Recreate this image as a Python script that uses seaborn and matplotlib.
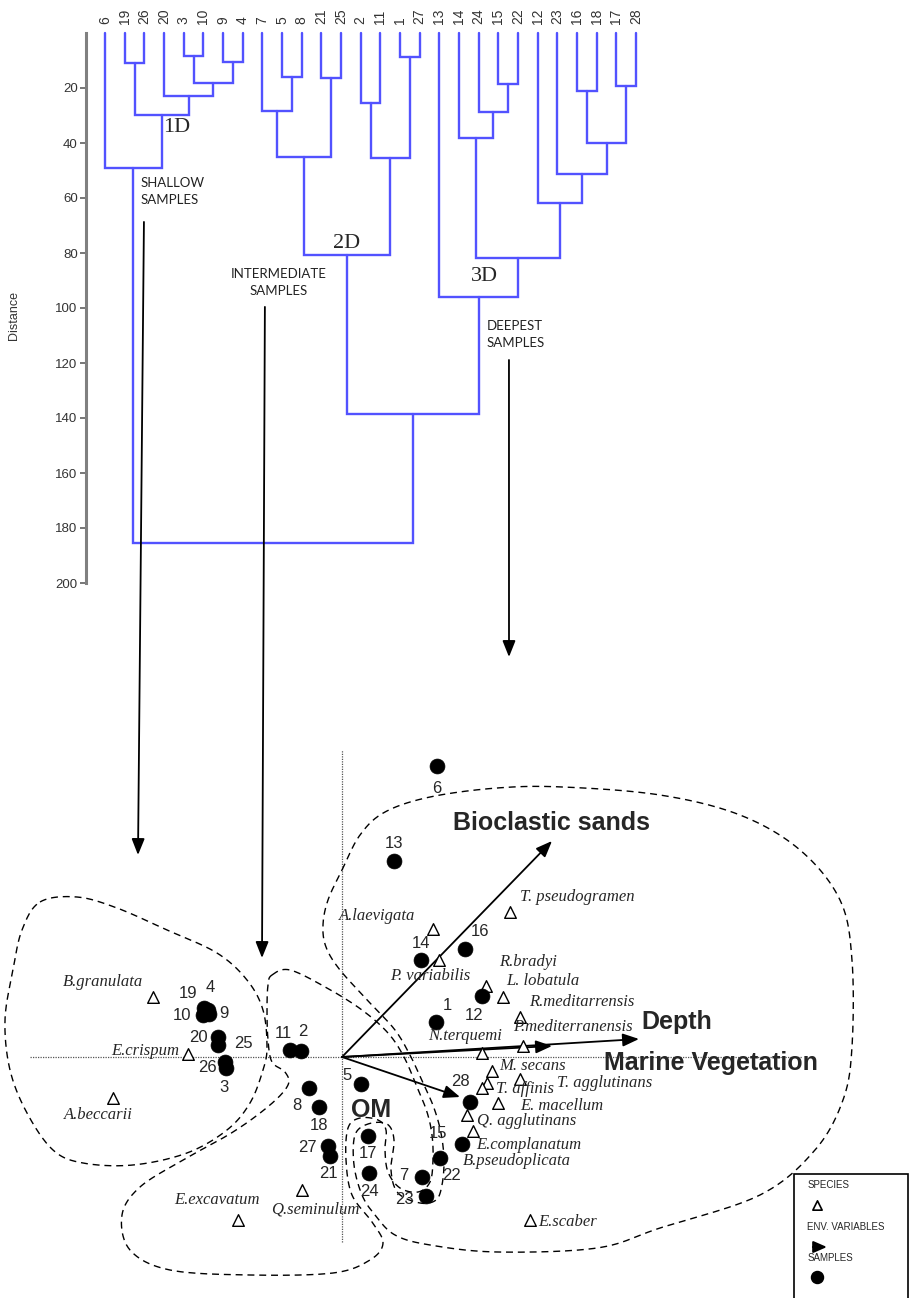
import numpy as np
import pandas as pd
import matplotlib
matplotlib.use("Agg")
import matplotlib.pyplot as plt
import seaborn as sns
from matplotlib.patches import Rectangle, ConnectionPatch

# ---------------- DATA ----------------
# Dendrogram: leaf order (sample numbers) and merges (id, left, right, distance)
leaf_order = [6, 19, 26, 20, 3, 10, 9, 4, 7, 5, 8, 21, 25, 2, 11, 1, 27,
              13, 14, 24, 15, 22, 12, 23, 16, 18, 17, 28]
den_merges = [
    ("A", 19, 26, 10.9), ("B", 3, 10, 8.4), ("C", 9, 4, 10.5),
    ("D", "B", "C", 18.2), ("E", 20, "D", 22.9), ("F", "A", "E", 29.8),
    ("G", 6, "F", 49.1),
    ("H", 5, 8, 16.0), ("I", 21, 25, 16.4), ("J", 7, "H", 28.4),
    ("K", "J", "I", 45.1), ("L", 2, 11, 25.5), ("M", 1, 27, 8.7),
    ("N", "L", "M", 45.5), ("O", "K", "N", 80.7),
    ("P", 15, 22, 18.5), ("Q", 24, "P", 28.7), ("R", 14, "Q", 38.2),
    ("S", 16, 18, 21.1), ("T", 17, 28, 19.3), ("U", "S", "T", 40.0),
    ("V", 23, "U", 51.3), ("W", 12, "V", 61.8), ("X", "R", "W", 81.8),
    ("Y", 13, "X", 96.0), ("Z", "O", "Y", 138.5), ("ROOT", "G", "Z", 185.5),
]
distance_ticks = [20, 40, 60, 80, 100, 120, 140, 160, 180, 200]

# Ordination: sample scores
sample_ids = list(range(1, 29))
sample_ax1 = [0.94, -0.41, -1.16, -1.34, 0.19, 0.95, 0.80, -0.33, -1.33, -1.39,
              -0.52, 1.40, 0.52, 0.79, 1.20, 1.23, 0.26, -0.23, -1.38, -1.24,
              -0.12, 0.98, 0.84, 0.27, -1.24, -1.17, -0.14, 1.28]
sample_ax2 = [0.35, 0.06, -0.11, 0.47, -0.27, 2.91, -1.20, -0.31, 0.43, 0.42,
              0.07, 0.61, 1.96, 0.97, -0.87, 1.08, -0.79, -0.50, 0.49, 0.20,
              -0.99, -1.01, -1.39, -1.16, 0.12, -0.05, -0.89, -0.45]

# Species scores
species_names = ["A.laevigata", "P. variabilis", "T. pseudogramen", "R.bradyi",
                 "L. lobatula", "R.meditarrensis", "P.mediterranensis",
                 "N.terquemi", "M. secans", "T. affinis", "T. agglutinans",
                 "E. macellum", "Q. agglutinans", "E.complanatum",
                 "B.pseudoplicata", "E.scaber", "B.granulata", "E.crispum",
                 "A.beccarii", "E.excavatum", "Q.seminulum"]
species_ax1 = [0.91, 0.97, 1.68, 1.44, 1.61, 1.78, 1.81, 1.40, 1.50, 1.45, 1.78,
               1.56, 1.25, 1.31, 1.40, 1.88, -1.89, -1.54, -2.29, -1.04, -0.40]
species_ax2 = [1.28, 0.97, 1.45, 0.71, 0.60, 0.40, 0.11, 0.04, -0.14, -0.26, -0.22,
               -0.46, -0.58, -0.74, -0.31, -1.63, 0.60, 0.03, -0.41, -1.63, -1.33]

# Environmental variables (biplot arrows)
env_names = ["Bioclastic sands", "Depth", "Marine Vegetation", "OM"]
env_ax1 = [2.10, 2.97, 2.10, 1.18]
env_ax2 = [2.16, 0.18, 0.11, -0.40]

# Group outlines (ordination units)
shallow_x = [-3.02, -2.65, -2.25, -1.75, -1.25, -0.95, -0.79, -0.75, -0.79, -0.92,
             -1.15, -1.55, -2.09, -2.59, -2.89, -3.15, -3.32, -3.37, -3.29, -3.20]
shallow_y = [1.55, 1.60, 1.49, 1.27, 1.04, 0.77, 0.47, 0.10, -0.13, -0.46,
             -0.73, -0.96, -1.08, -1.06, -0.93, -0.56, -0.13, 0.37, 0.87, 1.27]
inter_x = [-0.70, -0.52, -0.15, 0.20, 0.46, 0.62, 0.75, 0.85, 0.90, 0.91, 0.88,
           0.76, 0.58, 0.46, 0.43, 0.44, 0.36, 0.18, 0.06, 0.04, 0.10, 0.30,
           0.41, 0.28, -0.09, -0.92, -1.72, -2.12, -2.20, -2.02, -1.59, -1.09,
           -0.72, -0.54, -0.57, -0.70, -0.74, -0.75, -0.74]
inter_y = [0.82, 0.87, 0.69, 0.47, 0.24, 0.00, -0.30, -0.55, -0.78, -1.03, -1.25,
           -1.35, -1.31, -1.15, -0.93, -0.73, -0.63, -0.61, -0.71, -1.03, -1.38,
           -1.65, -1.86, -2.03, -2.16, -2.18, -2.13, -1.93, -1.58, -1.30, -1.03,
           -0.75, -0.48, -0.28, -0.15, -0.05, 0.17, 0.47, 0.72]
deep_x = [0.00, 0.18, 0.43, 0.88, 1.55, 2.21, 3.18, 3.98, 4.58, 4.98, 5.10, 5.10,
          5.01, 4.73, 4.18, 3.18, 2.55, 1.55, 0.88, 0.53, 0.33, 0.20, 0.12, 0.13,
          0.26, 0.45, 0.52, 0.49, 0.56, 0.78, 0.94, 1.00, 1.02, 0.99, 0.92, 0.82,
          0.69, 0.53, 0.28, -0.02, -0.16, -0.19, -0.14]
deep_y = [1.87, 2.22, 2.45, 2.60, 2.69, 2.70, 2.62, 2.42, 2.07, 1.57, 0.97, 0.10,
          -0.43, -0.93, -1.38, -1.71, -1.91, -1.95, -1.88, -1.78, -1.58, -1.38,
          -1.08, -0.78, -0.67, -0.67, -0.83, -1.13, -1.36, -1.46, -1.43, -1.28,
          -1.03, -0.76, -0.51, -0.28, 0.00, 0.27, 0.54, 0.87, 1.10, 1.32, 1.57]

# Label placement offsets (pixels: right, down)
sample_label_off = {1: (11, -17), 2: (2, -19), 3: (-2, 19), 4: (2, -22), 5: (-14, -8),
                    6: (0, 23), 7: (-18, -2), 8: (-12, 17), 9: (15, -1), 10: (-21, 0),
                    11: (-7, -17), 12: (-8, 19), 13: (0, -18), 14: (0, -17),
                    15: (-24, -11), 16: (15, -17), 17: (0, 17), 18: (0, 18),
                    19: (-16, -15), 20: (-20, 0), 21: (-2, 17), 22: (12, 18),
                    23: (-22, 3), 24: (0, 18), 25: (25, -1), 26: (-18, 5),
                    27: (-21, 1), 28: (-10, -21)}
species_label_off = [(-56, -13), (-9, 16), (67, -15), (42, -24), (40, -16), (62, -15),
                     (50, -19), (-17, -17), (41, -5), (38, 6), (85, 4), (64, 3),
                     (60, 6), (56, 14), (35, 73), (38, 2), (-50, -15), (-43, -3),
                     (-15, 17), (-21, -20), (13, 20)]
env_label_off = [(0, -18), (38, -17), (159, 17), (-89, 13)]

# ---------------- STYLE ----------------
sns.set_theme(style="white")
plt.rcParams["font.family"] = ["Liberation Sans", "DejaVu Sans"]
BLUE = "#5252ff"
PX = 0.72  # points per pixel at dpi 100

fig = plt.figure(figsize=(9.12, 12.98), dpi=100)

# ---------------- DENDROGRAM ----------------
ax1 = fig.add_axes([86 / 912, 1 - 583 / 1298, 826 / 912, 550 / 1298])
pos = {leaf: (i, 0.0) for i, leaf in enumerate(leaf_order)}
for mid, left, right, h in den_merges:
    xl, yl = pos[left]
    xr, yr = pos[right]
    ax1.plot([xl, xl, xr, xr], [yl, h, h, yr], color=BLUE, lw=1.7,
             solid_joinstyle="miter", clip_on=False, zorder=2)
    pos[mid] = ((xl + xr) / 2, h)

for i, leaf in enumerate(leaf_order):
    ax1.text(i, -3.3, str(leaf), rotation=90, ha="center", va="bottom",
             fontsize=10, color="#333333", clip_on=False)

ax1.set_xlim(-19 / 19.667, (912 - 105) / 19.667)
ax1.set_ylim(200, 0)
ax1.set_xticks([])
ax1.set_yticks(distance_ticks)
ax1.tick_params(axis="y", left=True, direction="out", length=4, width=1.4,
                color="#777777", labelsize=9.5, labelcolor="#333333", pad=2)
for s in ["top", "right", "bottom"]:
    ax1.spines[s].set_visible(False)
ax1.spines["left"].set_color("#808080")
ax1.spines["left"].set_linewidth(2.2)
ax1.set_ylabel("Distance", fontsize=9, color="#333333")
ax1.yaxis.set_label_coords(-0.08, 0.487)
ax1.patch.set_alpha(0)

ax1.text(2.95, 34.5, "1D", family="Liberation Serif", fontsize=16, va="center", ha="left")
ax1.text(11.6, 76.4, "2D", family="Liberation Serif", fontsize=16, va="center", ha="left")
ax1.text(18.6, 88.7, "3D", family="Liberation Serif", fontsize=16, va="center", ha="left")
ax1.text(1.83, 52.5, "SHALLOW\nSAMPLES", family="Lato", fontsize=9.5, ha="left",
         va="top", linespacing=1.45, color="#222222")
ax1.text(8.85, 85.5, "INTERMEDIATE\nSAMPLES", family="Lato", fontsize=9.5, ha="center",
         va="top", linespacing=1.45, color="#222222")
ax1.text(19.4, 104.5, "DEEPEST\nSAMPLES", family="Lato", fontsize=9.5, ha="left",
         va="top", linespacing=1.45, color="#222222")

# ---------------- ORDINATION ----------------
ax2 = fig.add_axes([0, 0, 1, 658 / 1298])
ax2.set_xlim(-3.42, 5.70)
ax2.set_ylim(-2.41, 4.17)
ax2.axis("off")

ax2.plot([-3.12, 4.6], [0, 0], color="#555555", lw=0.9, ls=(0, (1, 1)), zorder=1)
ax2.plot([0, 0], [-1.85, 3.07], color="#555555", lw=0.9, ls=(0, (1, 1)), zorder=1)


def smooth_closed(xs, ys, n=24):
    P = np.column_stack([xs, ys])
    N = len(P)
    t = np.linspace(0, 1, n, endpoint=False)[:, None]
    segs = []
    for i in range(N):
        p0, p1, p2, p3 = P[(i - 1) % N], P[i], P[(i + 1) % N], P[(i + 2) % N]
        segs.append(0.5 * (2 * p1 + (-p0 + p2) * t + (2 * p0 - 5 * p1 + 4 * p2 - p3) * t ** 2
                           + (-p0 + 3 * p1 - 3 * p2 + p3) * t ** 3))
    out = np.vstack(segs + [P[:1]])
    return out[:, 0], out[:, 1]


for ox, oy in [(shallow_x, shallow_y), (inter_x, inter_y), (deep_x, deep_y)]:
    sx, sy = smooth_closed(ox, oy)
    ax2.plot(sx, sy, color="black", lw=1.0, ls=(0, (5, 3.5)), zorder=2)

# env arrows
for name, ex, ey, (dx, dy) in zip(env_names, env_ax1, env_ax2, env_label_off):
    ax2.annotate("", xy=(ex, ey), xytext=(0, 0),
                 arrowprops=dict(arrowstyle="-|>,head_length=0.7,head_width=0.28",
                                 mutation_scale=14, lw=1.3, color="black",
                                 shrinkA=0, shrinkB=0), zorder=3)
    ax2.annotate(name, (ex, ey), xytext=(dx * PX, -dy * PX), textcoords="offset points",
                 ha="center", va="center", fontsize=18, fontweight="bold", zorder=6)

species_df = pd.DataFrame({"name": species_names, "ax1": species_ax1, "ax2": species_ax2})
sample_df = pd.DataFrame({"id": sample_ids, "ax1": sample_ax1, "ax2": sample_ax2})

sns.scatterplot(data=species_df, x="ax1", y="ax2", marker="^", s=70, color="white",
                edgecolor="black", linewidth=1.0, ax=ax2, legend=False, zorder=4)
sns.scatterplot(data=sample_df, x="ax1", y="ax2", marker="o", s=115, color="black",
                edgecolor="black", linewidth=0.5, ax=ax2, legend=False, zorder=5)
ax2.set_xlim(-3.42, 5.70)
ax2.set_ylim(-2.41, 4.17)
ax2.axis("off")

for sid, x, y in zip(sample_ids, sample_ax1, sample_ax2):
    dx, dy = sample_label_off[sid]
    ax2.annotate(str(sid), (x, y), xytext=(dx * PX, -dy * PX), textcoords="offset points",
                 ha="center", va="center", fontsize=12, zorder=6)

for name, x, y, (dx, dy) in zip(species_names, species_ax1, species_ax2, species_label_off):
    ax2.annotate(name, (x, y), xytext=(dx * PX, -dy * PX), textcoords="offset points",
                 ha="center", va="center", fontsize=12, family="Liberation Serif",
                 style="italic", zorder=6)

# legend box
ax2.add_patch(Rectangle((0.8706, -0.05), 0.125, 0.2384, transform=ax2.transAxes,
                        fill=False, lw=1.2, ec="black", clip_on=False, zorder=7))
ax2.text(0.885, 0.1717, "SPECIES", transform=ax2.transAxes, fontsize=7, va="center")
ax2.scatter([0.8958], [0.1413], transform=ax2.transAxes, marker="^", s=45,
            facecolor="white", edgecolor="black", lw=1.2, zorder=8, clip_on=False)
ax2.text(0.885, 0.1079, "ENV. VARIABLES", transform=ax2.transAxes, fontsize=7, va="center")
ax2.annotate("", xy=(0.9067, 0.0775), xytext=(0.8914, 0.0775), xycoords="axes fraction",
             arrowprops=dict(arrowstyle="-|>,head_length=0.8,head_width=0.35",
                             mutation_scale=10, lw=1.5, color="black",
                             shrinkA=0, shrinkB=0))
ax2.text(0.885, 0.0608, "SAMPLES", transform=ax2.transAxes, fontsize=7, va="center")
ax2.scatter([0.8958], [0.0319], transform=ax2.transAxes, marker="o", s=75,
            color="black", zorder=8, clip_on=False)

# connectors from dendrogram groups to ordination groups
for (xa, ya), (xb, yb) in [((1.98, 68.7), (-2.04, 2.02)),
                           ((8.13, 99.6), (-0.80, 0.99)),
                           ((20.54, 118.9), (1.67, 4.00))]:
    con = ConnectionPatch(xyA=(xa, ya), coordsA=ax1.transData, xyB=(xb, yb),
                          coordsB=ax2.transData,
                          arrowstyle="-|>,head_length=0.7,head_width=0.28",
                          mutation_scale=14, lw=1.3, color="black")
    fig.add_artist(con)

fig.savefig("out.png", dpi=100)
